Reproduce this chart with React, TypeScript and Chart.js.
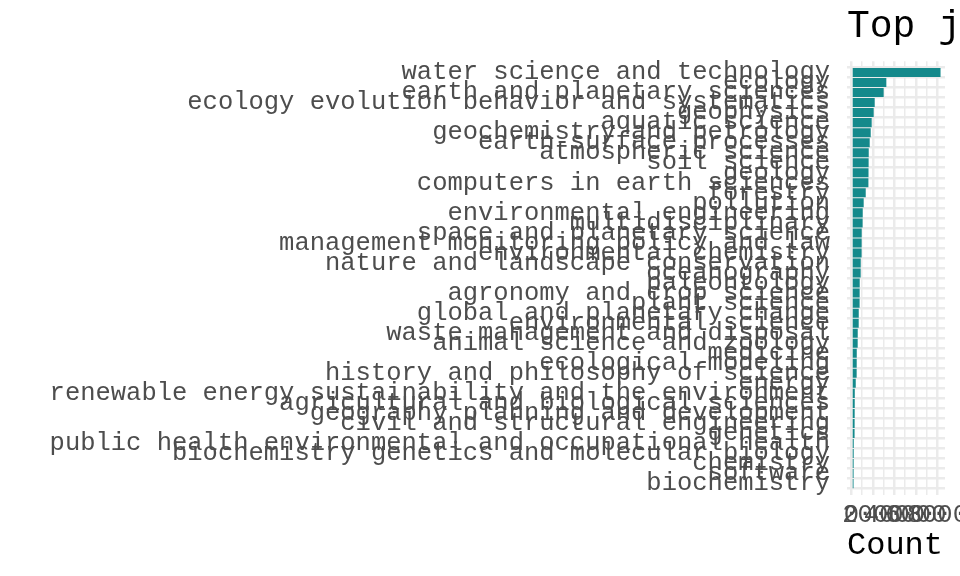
import React, { useEffect, useRef } from 'react';
import { Chart, registerables } from 'chart.js';

Chart.register(...registerables);

const categories = [
  'water science and technology',
  'ecology',
  'earth and planetary sciences',
  'ecology evolution behavior and systematics',
  'geophysics',
  'aquatic science',
  'geochemistry and petrology',
  'earth-surface processes',
  'atmospheric science',
  'soil science',
  'geology',
  'computers in earth sciences',
  'forestry',
  'pollution',
  'environmental engineering',
  'multidisciplinary',
  'space and planetary science',
  'management monitoring policy and law',
  'environmental chemistry',
  'nature and landscape conservation',
  'oceanography',
  'paleontology',
  'agronomy and crop science',
  'plant science',
  'global and planetary change',
  'environmental science',
  'waste management and disposal',
  'animal science and zoology',
  'medicine',
  'ecological modeling',
  'history and philosophy of science',
  'energy',
  'renewable energy sustainability and the environment',
  'agricultural and biological sciences',
  'geography planning and development',
  'civil and structural engineering',
  'genetics',
  'public health environmental and occupational health',
  'biochemistry genetics and molecular biology',
  'chemistry',
  'software',
  'biochemistry',
];

const counts = [
  8300, 3250, 3000, 2165, 2070, 1885, 1795, 1700, 1610, 1600, 1590, 1580,
  1330, 1140, 1050, 1040, 955, 950, 945, 865, 860, 770, 765, 760, 680, 675,
  585, 580, 495, 490, 485, 400, 310, 305, 300, 295, 290, 215, 210, 205, 200, 195,
];

const xGridValues = [0, 1000, 2000, 3000, 4000, 5000, 6000, 7000, 8000];
const xLabeledValues = [0, 2000, 4000, 6000, 8000];

const titleText = 'Top journal subject areas';
const xAxisTitle = 'Count';

const MONO = "'Liberation Mono', 'DejaVu Sans Mono', monospace";
const BAR_COLOR = '#14898B';
const GRID_COLOR = '#EBEBEB';
const TEXT_GREY = '#4D4D4D';

const panelTitlePlugin = {
  id: 'panelTitle',
  afterDraw(chart: any) {
    const { ctx, chartArea } = chart;
    ctx.save();
    ctx.font = `38px ${MONO}`;
    ctx.fillStyle = '#000000';
    ctx.textAlign = 'left';
    ctx.textBaseline = 'middle';
    ctx.fillText(titleText, chartArea.left, chartArea.top - 34);
    ctx.restore();
  },
};

export default function App() {
  const canvasRef = useRef<HTMLCanvasElement | null>(null);

  useEffect(() => {
    const canvas = canvasRef.current;
    if (!canvas) return;
    const maxCount = Math.max(...counts);
    const n = categories.length;

    const chart = new Chart(canvas, {
      type: 'bar',
      data: {
        datasets: [
          {
            data: counts.map((c, i) => ({ x: c, y: i })),
            backgroundColor: BAR_COLOR,
            borderWidth: 0,
            barPercentage: 0.9,
            categoryPercentage: 1,
            xAxisID: 'x',
            yAxisID: 'y',
          },
        ],
      },
      options: {
        animation: false,
        responsive: false,
        indexAxis: 'y',
        layout: { padding: { left: 0, right: 15, top: 61.3, bottom: 0 } },
        plugins: {
          legend: { display: false },
          tooltip: { enabled: false },
          title: { display: false },
        },
        scales: {
          x: {
            type: 'linear',
            position: 'bottom',
            bounds: 'data',
            min: -0.05 * maxCount,
            max: 1.05 * maxCount,
            afterBuildTicks: (axis: any) => {
              axis.ticks = xGridValues.map((v) => ({ value: v }));
            },
            afterFit: (scale: any) => {
              scale.paddingLeft = 0;
              scale.paddingRight = 0;
              scale.height = 81.2;
            },
            border: { display: false },
            grid: {
              color: GRID_COLOR,
              lineWidth: (ctx: any) =>
                ctx.tick && xLabeledValues.includes(ctx.tick.value) ? 2.5 : 1.5,
              drawTicks: false,
            },
            ticks: {
              autoSkip: false,
              maxRotation: 0,
              minRotation: 0,
              padding: 7.5,
              color: TEXT_GREY,
              font: { family: MONO, size: 25.5, lineHeight: 1 },
              callback: (value: any) =>
                xLabeledValues.includes(Number(value)) ? String(value) : '',
            },
            title: {
              display: true,
              text: xAxisTitle,
              align: 'start',
              color: '#000000',
              font: { family: MONO, size: 32, lineHeight: 1 },
              padding: { top: 2.2, bottom: 14 },
            },
          },
          y: {
            type: 'linear',
            position: 'left',
            bounds: 'data',
            reverse: true,
            min: -0.6,
            max: n - 1 + 0.6,
            afterBuildTicks: (axis: any) => {
              axis.ticks = categories.map((_, i) => ({ value: i }));
            },
            afterFit: (scale: any) => {
              scale.width = 847;
              scale.paddingTop = 0;
              scale.paddingBottom = 0;
            },
            border: { display: false },
            grid: {
              color: GRID_COLOR,
              lineWidth: 2.5,
              drawTicks: false,
            },
            ticks: {
              autoSkip: false,
              padding: 17,
              color: TEXT_GREY,
              font: { family: MONO, size: 25.5, lineHeight: 1.2 },
              callback: (value: any) => categories[Number(value)] ?? '',
            },
          },
        },
      } as any,
      plugins: [panelTitlePlugin],
    });

    return () => {
      chart.destroy();
    };
  }, []);

  return (
    <div style={{ position: 'fixed', left: 0, top: 0, width: 960, height: 576, background: '#ffffff' }}>
      <canvas ref={canvasRef} width={960} height={576} style={{ display: 'block', width: 960, height: 576 }} />
    </div>
  );
}
